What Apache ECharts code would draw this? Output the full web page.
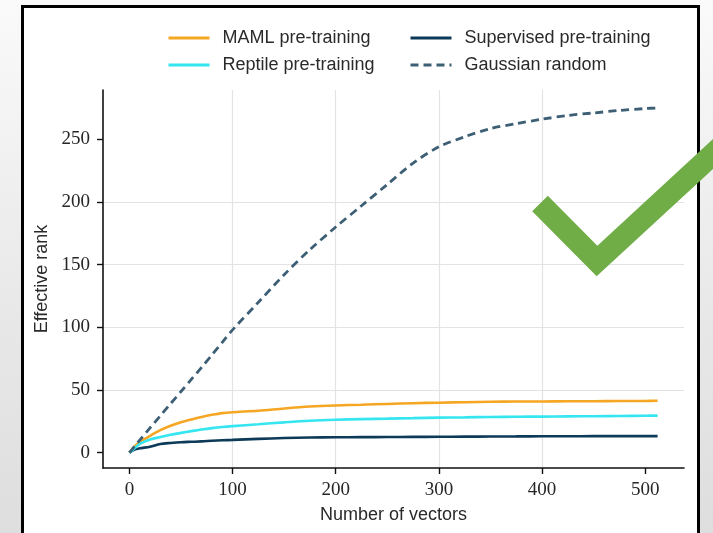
<!DOCTYPE html>
<html>
<head>
<meta charset="utf-8">
<script src="https://cdn.jsdelivr.net/npm/echarts@6/dist/echarts.min.js"></script>
<style>
  html, body { margin: 0; padding: 0; width: 713px; height: 533px; overflow: hidden; }
  body { background: linear-gradient(to bottom, #fafafa 0%, #e9e9e9 55%, #dedede 100%); position: relative; }
  #frame { position: absolute; left: 21px; top: 5px; width: 679px; height: 600px; box-sizing: border-box; border: 3px solid #000; background: #fff; }
  #chart { position: absolute; left: 0; top: 0; width: 713px; height: 533px; }
</style>
</head>
<body>
<div id="frame"></div>
<div id="chart"></div>
<script>
// ---- data ----
const numVectors = [0, 5, 10, 20, 30, 40, 50, 60, 70, 80, 90, 100, 125, 150, 175, 200, 225, 250, 275, 300, 325, 350, 375, 400, 425, 450, 475, 500, 512];
const mamlRank = [0, 5, 8.5, 13.5, 18, 21.5, 24.3, 26.5, 28.5, 30.2, 31.6, 32.3, 33.5, 35.3, 36.8, 37.7, 38.3, 38.9, 39.5, 39.9, 40.3, 40.6, 40.8, 40.9, 41, 41.1, 41.2, 41.3, 41.4];
const reptileRank = [0, 3.5, 7, 10.5, 12.5, 14.3, 15.8, 17.2, 18.5, 19.6, 20.5, 21.2, 22.7, 24.2, 25.5, 26.3, 26.8, 27.2, 27.6, 28, 28.2, 28.5, 28.7, 28.8, 29, 29.1, 29.3, 29.5, 29.6];
const supervisedRank = [0, 2.5, 3.5, 4.8, 7, 7.8, 8.4, 8.7, 9, 9.5, 9.9, 10.2, 11, 11.7, 12.1, 12.3, 12.4, 12.5, 12.6, 12.7, 12.8, 12.9, 13.0, 13.1, 13.1, 13.2, 13.2, 13.2, 13.2];
const gaussianRank = [0, 5, 10, 19.8, 29.5, 39.2, 48.8, 58.5, 68, 78, 88, 98, 120, 142, 162, 180, 197, 214, 231, 244, 252, 258.5, 262.5, 266, 269, 271, 273, 274.5, 275];
const xTicks = [0, 100, 200, 300, 400, 500];
const yTicks = [0, 50, 100, 150, 200, 250];
const seriesNames = ['MAML pre-training', 'Supervised pre-training', 'Reptile pre-training', 'Gaussian random'];

const pair = (ys) => numVectors.map((x, i) => [x, ys[i]]);

const chart = echarts.init(document.getElementById('chart'), null, { renderer: 'canvas' });
const tickFont = { fontFamily: 'Liberation Serif', fontSize: 19, color: '#262626' };
const nameFont = { fontFamily: 'Liberation Sans', fontSize: 18, color: '#2a2a2a' };

const legendBase = {
  orient: 'vertical', top: 24, itemWidth: 41, itemHeight: 18, itemGap: 9,
  itemStyle: { opacity: 0 },
  lineStyle: { width: 3 },
  textStyle: Object.assign({}, nameFont, { padding: [0, 0, 0, 8] })
};

chart.setOption({
  backgroundColor: 'transparent',
  animation: false,
  grid: { left: 103, right: 29, top: 90, bottom: 65, containLabel: false },
  legend: [
    Object.assign({ data: [seriesNames[0], seriesNames[2]], left: 162 }, legendBase),
    Object.assign({ data: [seriesNames[1], seriesNames[3]], left: 404 }, legendBase)
  ],
  xAxis: {
    type: 'value', min: -25.6, max: 537.6,
    name: 'Number of vectors', nameLocation: 'middle', nameGap: 38, nameTextStyle: nameFont,
    axisLine: { show: true, onZero: false, lineStyle: { color: '#111', width: 1.6 } },
    axisTick: { show: true, length: 6, customValues: xTicks, lineStyle: { color: '#111', width: 1.4 } },
    axisLabel: Object.assign({ customValues: xTicks, margin: 13 }, tickFont),
    splitLine: { show: true, showMinLine: false, showMaxLine: false, lineStyle: { color: '#e3e3e3', width: 1.2 } }
  },
  yAxis: {
    type: 'value', min: -12.2, max: 289.3,
    name: 'Effective rank', nameLocation: 'middle', nameGap: 51, nameTextStyle: nameFont,
    axisLine: { show: true, onZero: false, lineStyle: { color: '#111', width: 1.6 } },
    axisTick: { show: true, length: 6, customValues: yTicks, lineStyle: { color: '#111', width: 1.4 } },
    axisLabel: Object.assign({ customValues: yTicks, margin: 13 }, tickFont),
    splitLine: { show: true, showMinLine: false, showMaxLine: false, lineStyle: { color: '#e3e3e3', width: 1.2 } }
  },
  series: [
    { name: seriesNames[0], type: 'line', data: pair(mamlRank), symbol: 'none', smooth: 0.3,
      lineStyle: { color: '#f5a623', width: 2.6 }, itemStyle: { color: '#f5a623' } },
    { name: seriesNames[1], type: 'line', data: pair(supervisedRank), symbol: 'none', smooth: 0.3,
      lineStyle: { color: '#0c3a58', width: 2.6 }, itemStyle: { color: '#0c3a58' } },
    { name: seriesNames[2], type: 'line', data: pair(reptileRank), symbol: 'none', smooth: 0.3,
      lineStyle: { color: '#35e6f0', width: 2.6 }, itemStyle: { color: '#35e6f0' } },
    { name: seriesNames[3], type: 'line', data: pair(gaussianRank), symbol: 'none', smooth: 0.3,
      lineStyle: { color: '#3d5f75', width: 2.8, type: [8, 5] }, itemStyle: { color: '#3d5f75' } }
  ],
  graphic: [
    { type: 'polyline', z: 100, silent: true,
      shape: { points: [[540, 203.5], [597, 261], [725, 143]] },
      style: { stroke: '#70ad47', lineWidth: 22, fill: null, lineJoin: 'miter', lineCap: 'butt' } }
  ]
});
</script>
</body>
</html>
